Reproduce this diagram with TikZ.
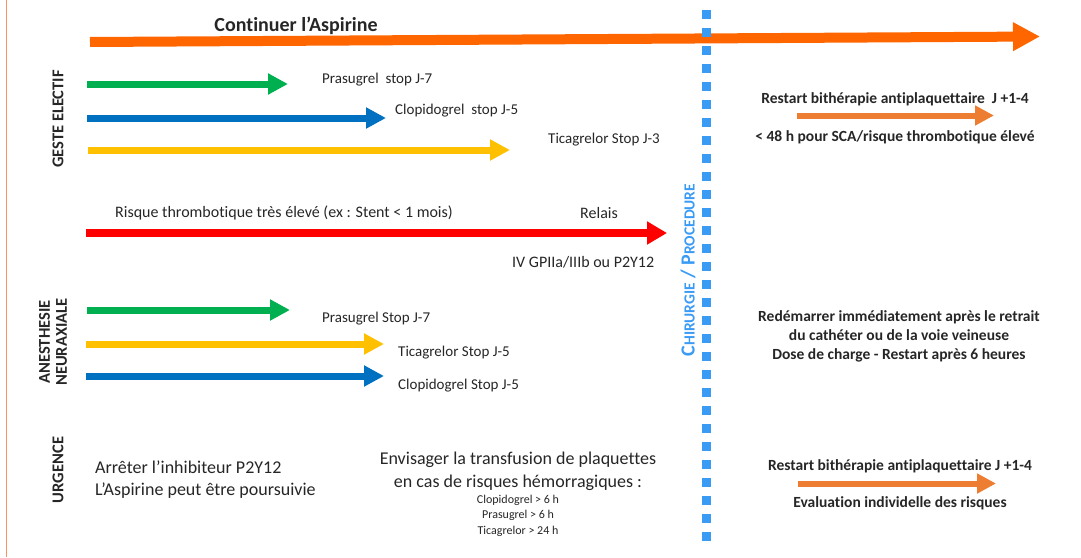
\documentclass[tikz,border=0pt]{standalone}
\usepackage{fontspec}
\setmainfont{Carlito}[Ligatures=NoCommon]
\usetikzlibrary{arrows.meta}
\definecolor{txt}{RGB}{38,38,38}
\definecolor{aspor}{RGB}{255,102,0}
\definecolor{restor}{RGB}{237,125,49}
\definecolor{grn}{RGB}{0,176,80}
\definecolor{blu}{RGB}{0,112,192}
\definecolor{yel}{RGB}{255,192,0}
\definecolor{rd}{RGB}{255,0,0}
\definecolor{dotblue}{RGB}{58,155,245}
\definecolor{border}{RGB}{244,150,100}
\begin{document}
\begin{tikzpicture}[x=1pt,y=-1pt,
  lbl/.style={text=txt, inner sep=0pt, font=\fontsize{15}{18}\selectfont},
  lblb/.style={text=txt, inner sep=0pt, font=\fontsize{16}{19}\selectfont},
  big/.style={text=txt, inner sep=0pt, font=\fontsize{18}{22}\selectfont},
  small/.style={text=txt, inner sep=0pt, font=\fontsize{12}{14}\selectfont},
  rtxt/.style={text=txt, inner sep=0pt, font=\bfseries\fontsize{15.5}{19}\selectfont},
  vlbl/.style={text=txt, inner sep=0pt, rotate=90, align=center, font=\bfseries\fontsize{16.5}{17}\selectfont},
  thinarrow/.style={line width=7pt, -{Triangle[length=20pt,width=20pt]}},
  redarrow/.style={line width=8pt, -{Triangle[length=20pt,width=22pt]}},
  restarrow/.style={restor, line width=6pt, -{Triangle[length=19pt,width=19pt]}},
  toparrow/.style={aspor, line width=10pt, -{Triangle[length=27pt,width=27pt]}}
]
\useasboundingbox (0,0) rectangle (1081,557);
% left border
\coordinate (b0) at (6.5,0);
\coordinate (b1) at (6.5,557);
\draw[border, line width=1.6pt] (b0) -- (b1);

% top aspirin arrow
\node[text=txt, inner sep=0pt, font=\bfseries\fontsize{20}{24}\selectfont] (title) at (296,26) {Continuer l’Aspirine};
\coordinate (a0s) at (90,42);
\coordinate (a0e) at (1040,36.5);
\draw[toparrow] (a0s) -- (a0e);

% dotted separator
\coordinate (d0) at (706.5,10);
\coordinate (d1) at (706.5,541);
\draw[dotblue, line width=9pt, dash pattern=on 9pt off 9pt] (d0) -- (d1);
\node[text=dotblue, inner sep=0pt, rotate=90, font=\bfseries] (chir) at (688,270)
  {{\fontsize{20}{20}\selectfont C}{\fontsize{15.5}{20}\selectfont HIRURGIE}{\fontsize{20}{20}\selectfont\ /\ P}{\fontsize{15.5}{20}\selectfont ROCEDURE}};

% GESTE ELECTIF
\node[vlbl] (geste) at (58,119) {GESTE ELECTIF};
\coordinate (g1s) at (87,84);  \coordinate (g1e) at (288,84);
\coordinate (b1s) at (87,118); \coordinate (b1e) at (386,118);
\coordinate (y1s) at (88,150); \coordinate (y1e) at (510,150);
\draw[grn, thinarrow] (g1s) -- (g1e);
\draw[blu, thinarrow] (b1s) -- (b1e);
\draw[yel, thinarrow] (y1s) -- (y1e);
\node[lbl, anchor=west] (tg1) at (322,80) {Prasugrel\ \ stop J-7};
\node[lbl, anchor=west] (tb1) at (395,111) {Clopidogrel\ \ stop J-5};
\node[lbl, anchor=west] (ty1) at (548,140) {Ticagrelor Stop J-3};

% red relais
\node[lblb, anchor=west] (risk) at (115,213) {Risque thrombotique très élevé (ex : Stent < 1 mois)};
\node[lblb, anchor=west] (relais) at (580,213) {Relais};
\coordinate (rs) at (86,233); \coordinate (re) at (667,233);
\draw[rd, redarrow] (rs) -- (re);
\node[lblb, anchor=west] (iv) at (512,262) {IV GPIIa/IIIb ou P2Y12};

% ANESTHESIE NEURAXIALE
\node[vlbl] (anes) at (53,342) {ANESTHESIE\\NEURAXIALE};
\coordinate (g2s) at (87,310);  \coordinate (g2e) at (290,310);
\coordinate (y2s) at (86,344); \coordinate (y2e) at (384,344);
\coordinate (b2s) at (86,376); \coordinate (b2e) at (384,376);
\draw[grn, thinarrow] (g2s) -- (g2e);
\draw[yel, thinarrow] (y2s) -- (y2e);
\draw[blu, thinarrow] (b2s) -- (b2e);
\node[lbl, anchor=west] (tg2) at (322,319) {Prasugrel Stop J-7};
\node[lbl, anchor=west] (ty2) at (398,353) {Ticagrelor Stop J-5};
\node[lbl, anchor=west] (tb2) at (398,386) {Clopidogrel Stop J-5};

% URGENCE
\node[vlbl] (urg) at (58,470) {URGENCE};
\node[big, anchor=west] (u1) at (95,467) {Arrêter l’inhibiteur P2Y12};
\node[big, anchor=west] (u2) at (95,491) {L’Aspirine peut être poursuivie};
\node[big] (e1) at (518,460) {Envisager la transfusion de plaquettes};
\node[big] (e2) at (518,483) {en cas de risques hémorragiques :};
\node[small] (e3) at (518,500) {Clopidogrel > 6 h};
\node[small] (e4) at (518,515) {Prasugrel > 6 h};
\node[small] (e5) at (518,531) {Ticagrelor > 24 h};

% right column
\node[rtxt] (r1) at (895,99) {Restart bithérapie antiplaquettaire\ \ J +1-4};
\coordinate (ra1s) at (797,115.5); \coordinate (ra1e) at (994,115.5);
\draw[restarrow] (ra1s) -- (ra1e);
\node[rtxt] (r2) at (895,137) {< 48 h pour SCA/risque thrombotique élevé};
\node[rtxt, align=center] (r3) at (899,336) {Redémarrer immédiatement après le retrait\\du cathéter ou de la voie veineuse\\Dose de charge - Restart après 6 heures};
\node[rtxt] (r4) at (900,466) {Restart bithérapie antiplaquettaire J +1-4};
\coordinate (ra2s) at (798,483.5); \coordinate (ra2e) at (996,483.5);
\draw[restarrow] (ra2s) -- (ra2e);
\node[rtxt] (r5) at (900,503) {Evaluation individelle des risques};
\end{tikzpicture}
\end{document}
